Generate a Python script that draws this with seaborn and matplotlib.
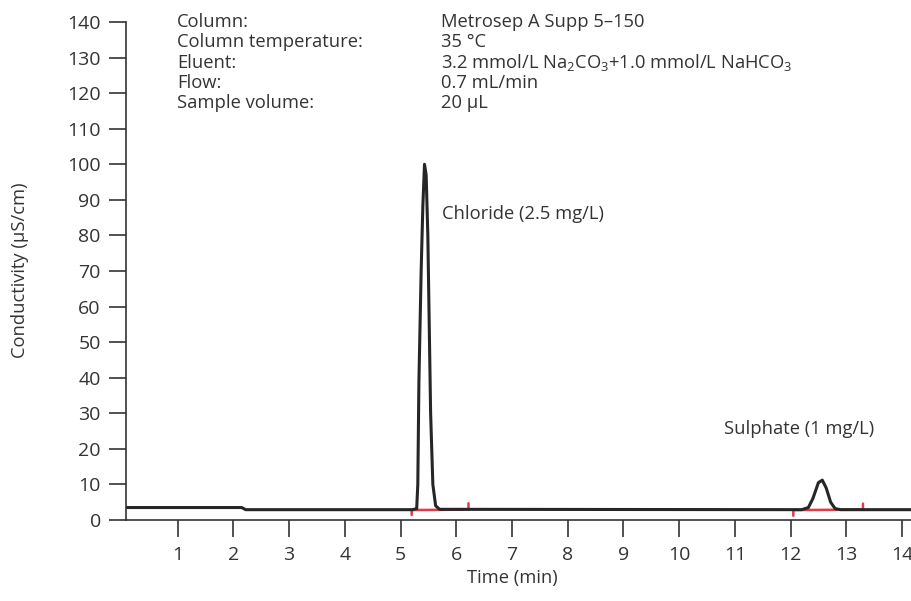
import pandas as pd
import seaborn as sns
from matplotlib import pyplot as plt

# chromatogram trace (time in min, conductivity in uS/cm)
trace_time = [0.07, 2.15, 2.22, 5.22, 5.29, 5.31, 5.33, 5.37, 5.40, 5.43, 5.46,
              5.49, 5.52, 5.54, 5.58, 5.63, 5.70, 12.20, 12.32, 12.40, 12.50,
              12.57, 12.64, 12.72, 12.80, 12.90, 14.20]
trace_signal = [3.5, 3.5, 2.9, 2.9, 3.2, 10.0, 39.0, 70.0, 88.0, 100.0, 97.0,
                80.0, 50.0, 30.0, 10.0, 4.0, 3.0, 2.9, 3.5, 6.0, 10.5,
                11.2, 9.0, 5.0, 3.2, 2.9, 2.9]

# integration baselines (red)
chl_base_time = [5.20, 5.20, 6.22, 6.22]
chl_base_signal = [1.4, 2.8, 2.9, 4.7]
sul_base_time = [12.05, 12.05, 13.30, 13.30]
sul_base_signal = [1.2, 2.8, 2.9, 4.6]

x_ticks = list(range(1, 15))
y_ticks = list(range(0, 141, 10))

conditions = ["Column:", "Column temperature:", "Eluent:", "Flow:", "Sample volume:"]
condition_values = ["Metrosep A Supp 5\u2013150", "35 \u00b0C",
                    "3.2 mmol/L Na$_2$CO$_3$+1.0 mmol/L NaHCO$_3$",
                    "0.7 mL/min", "20 \u00b5L"]

trace = pd.DataFrame({"time": trace_time, "signal": trace_signal})
chl = pd.DataFrame({"time": chl_base_time, "signal": chl_base_signal})
sul = pd.DataFrame({"time": sul_base_time, "signal": sul_base_signal})

sns.set_style('white')
plt.rcParams['font.family'] = ['Open Sans', 'DejaVu Sans']
plt.rcParams['mathtext.fontset'] = 'custom'
plt.rcParams['mathtext.rm'] = 'Open Sans'
plt.rcParams['mathtext.it'] = 'Open Sans'
txt = '#333333'
fs = 13.2

fig = plt.figure(figsize=(9.12, 6.01), dpi=100)
ax = fig.add_axes([0.138, 0.1348, 0.862, 0.8286])

sns.lineplot(x="time", y="signal", data=chl, sort=False, estimator=None,
             color='#e23a48', lw=1.8, ax=ax)
sns.lineplot(x="time", y="signal", data=sul, sort=False, estimator=None,
             color='#e23a48', lw=1.8, ax=ax)
sns.lineplot(x="time", y="signal", data=trace, sort=False, estimator=None,
             color='#262626', lw=2.2, ax=ax)

ax.set_xlim(0.07, 14.18)
ax.set_ylim(0, 140)
ax.set_xticks(x_ticks)
ax.set_yticks(y_ticks)
ax.tick_params(axis='both', direction='out', length=12, width=1.2,
               color='#333333', labelsize=14, labelcolor=txt,
               bottom=True, left=True, pad=6)
ax.tick_params(axis='x', pad=7)
for side in ['top', 'right']:
    ax.spines[side].set_visible(False)
for side in ['left', 'bottom']:
    ax.spines[side].set_color('#333333')
    ax.spines[side].set_linewidth(1.2)
ax.set_xlabel('')
ax.set_ylabel('')

fig.text(20 / 912, 1 - 270 / 601, 'Conductivity (\u00b5S/cm)', rotation=90,
         ha='center', va='center', fontsize=fs, color=txt)
fig.text(512 / 912, 1 - 578 / 601, 'Time (min)', ha='center', va='center',
         fontsize=fs, color=txt)

for i, (lab, val) in enumerate(zip(conditions, condition_values)):
    y = 1 - (22 + i * 20.3) / 601
    fig.text(177 / 912, y, lab, ha='left', va='center', fontsize=fs, color=txt)
    fig.text(441 / 912, y, val, ha='left', va='center', fontsize=fs, color=txt)

ax.text(5.75, 86, 'Chloride (2.5 mg/L)', ha='left', va='center',
        fontsize=fs, color=txt)
ax.text(10.8, 25.5, 'Sulphate (1 mg/L)', ha='left', va='center',
        fontsize=fs, color=txt)

plt.savefig('out.png', dpi=100)
